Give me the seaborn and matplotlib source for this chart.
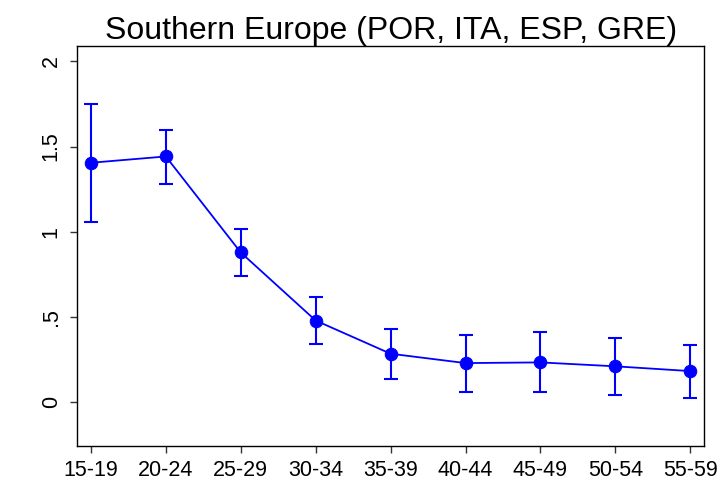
import numpy as np
import pandas as pd
import seaborn as sns
import matplotlib.pyplot as plt

# Data
age_groups = ["15-19", "20-24", "25-29", "30-34", "35-39", "40-44", "45-49", "50-54", "55-59"]
estimate = [1.405, 1.442, 0.878, 0.478, 0.283, 0.228, 0.232, 0.209, 0.181]
ci_upper = [1.750, 1.596, 1.015, 0.619, 0.427, 0.394, 0.408, 0.375, 0.334]
ci_lower = [1.058, 1.280, 0.741, 0.338, 0.133, 0.060, 0.057, 0.041, 0.023]

df = pd.DataFrame({"age": age_groups, "est": estimate, "hi": ci_upper, "lo": ci_lower})
df["pos"] = np.arange(len(df))

sns.set_style("ticks")
plt.rcParams["font.family"] = ["Liberation Sans", "DejaVu Sans"]

fig = plt.figure(figsize=(7.2, 4.86), dpi=100)
ax = fig.add_axes([0.107, 0.082, 0.871, 0.823])

# Confidence intervals
ax.errorbar(df["pos"], df["est"],
            yerr=[df["est"] - df["lo"], df["hi"] - df["est"]],
            fmt="none", ecolor="#0000ff", elinewidth=1.5, capsize=5, capthick=1.5)

# Point estimates
sns.lineplot(data=df, x="pos", y="est", ax=ax, color="#0000ff", linewidth=1.3,
             marker="o", markersize=9, markeredgecolor="#0000ff")

ax.set_xlim(-0.185, 8.185)
ax.set_ylim(-0.26, 2.09)
ax.set_xticks(df["pos"])
ax.set_xticklabels(age_groups, fontsize=15.5, color="black")
ax.set_yticks([0, 0.5, 1, 1.5, 2])
ax.set_yticklabels(["0", ".5", "1", "1.5", "2"], fontsize=15.5, color="black",
                   rotation=90, va="center")
ax.tick_params(axis="x", direction="out", length=5, width=1, colors="#333333", pad=5)
ax.tick_params(axis="y", direction="out", length=5, width=1, colors="#333333", pad=6)
for lbl in ax.get_xticklabels() + ax.get_yticklabels():
    lbl.set_color("black")
ax.set_xlabel("")
ax.set_ylabel("")
ax.set_title("Southern Europe (POR, ITA, ESP, GRE)", fontsize=23, color="black", pad=3)
for s in ax.spines.values():
    s.set_color("black")
    s.set_linewidth(1)

fig.savefig("out.png", dpi=100)
